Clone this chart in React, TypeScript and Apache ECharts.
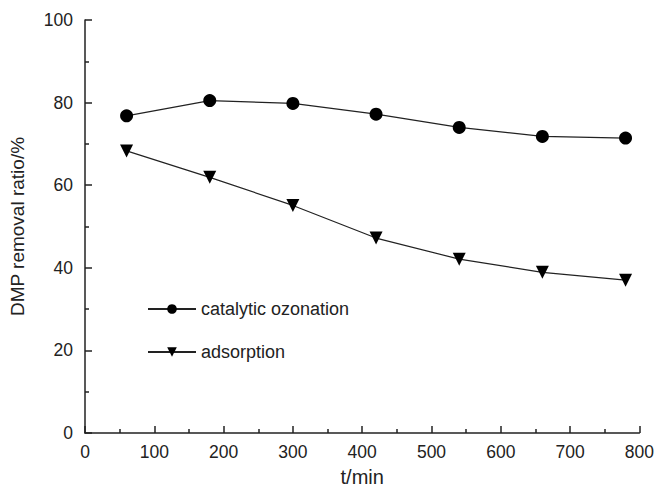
import React, { useEffect, useRef } from "react";
import * as echarts from "echarts";

const times = [60, 180, 300, 420, 540, 660, 780];
const catalyticOzonation = [76.8, 80.5, 79.8, 77.2, 74.0, 71.8, 71.4];
const adsorption = [68.3, 61.9, 55.1, 47.2, 42.1, 38.9, 37.0];
const seriesNames = ["catalytic ozonation", "adsorption"];

const FONT = "'Liberation Sans', Arial, sans-serif";

export default function App() {
  const ref = useRef<HTMLDivElement>(null);
  useEffect(() => {
    if (!ref.current) return;
    const chart = echarts.init(ref.current, null, { renderer: "svg" });
    const axisCommon = {
      axisLine: { show: true, lineStyle: { color: "#222", width: 1.5 } },
      axisTick: { show: true, inside: true, length: 7, lineStyle: { color: "#222", width: 1.5 } },
      minorTick: { show: true, splitNumber: 2, length: 4, lineStyle: { color: "#222", width: 1.5 } },
      splitLine: { show: false },
      axisLabel: { color: "#222", fontSize: 17.5, fontFamily: FONT },
    };
    chart.setOption({
      animation: false,
      backgroundColor: "#fff",
      grid: { left: 85, right: 14, top: 20, bottom: 57, containLabel: false },
      xAxis: {
        type: "value",
        min: 0,
        max: 800,
        interval: 100,
        name: "t/min",
        nameLocation: "middle",
        nameGap: 34,
        ...axisCommon,
        axisLabel: { ...axisCommon.axisLabel, margin: 10 },
        nameTextStyle: { color: "#222", fontSize: 20, fontFamily: FONT },
      },
      yAxis: {
        type: "value",
        min: 0,
        max: 100,
        interval: 20,
        name: "DMP removal ratio/%",
        nameLocation: "middle",
        nameGap: 58,
        ...axisCommon,
        axisLabel: { ...axisCommon.axisLabel, margin: 12 },
        nameTextStyle: { color: "#222", fontSize: 19, fontFamily: FONT },
      },
      legend: {
        orient: "vertical",
        left: 142,
        top: 295,
        itemGap: 25,
        itemWidth: 48,
        itemHeight: 12,
        textStyle: { color: "#222", fontSize: 18, fontFamily: FONT },
        data: seriesNames,
      },
      series: [
        {
          name: seriesNames[0],
          type: "line",
          data: times.map((t, i) => [t, catalyticOzonation[i]]),
          symbol: "circle",
          symbolSize: 13,
          itemStyle: { color: "#000" },
          lineStyle: { color: "#222", width: 1.2 },
        },
        {
          name: seriesNames[1],
          type: "line",
          data: times.map((t, i) => [t, adsorption[i]]),
          symbol: "triangle",
          symbolRotate: 180,
          symbolSize: 13,
          itemStyle: { color: "#000" },
          lineStyle: { color: "#222", width: 1.2 },
        },
      ],
    });
    return () => chart.dispose();
  }, []);
  return <div ref={ref} style={{ width: 657, height: 492, position: "absolute", left: 0, top: 0 }} />;
}
